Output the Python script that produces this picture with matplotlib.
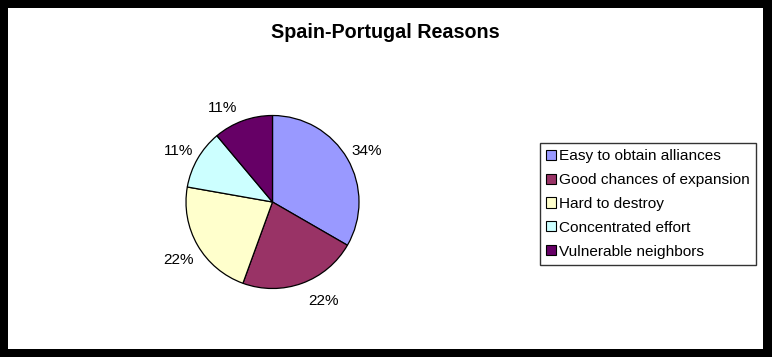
import matplotlib
matplotlib.use("Agg")
import numpy as np
import matplotlib.pyplot as plt
from matplotlib.patches import Rectangle

title = "Spain-Portugal Reasons"
categories = ["Easy to obtain alliances", "Good chances of expansion",
              "Hard to destroy", "Concentrated effort", "Vulnerable neighbors"]
values = [3, 2, 2, 1, 1]
pct_labels = ["34%", "22%", "22%", "11%", "11%"]
colors = ["#9999FF", "#993366", "#FFFFCC", "#CCFFFF", "#660066"]

plt.rcParams['font.family'] = ['Liberation Sans', 'DejaVu Sans']

W, H = 772, 357
fig = plt.figure(figsize=(W / 100, H / 100), dpi=100)
fig.patch.set_facecolor("black")
fig.patches.append(Rectangle((8 / W, 8 / H), (763 - 8) / W, (349 - 8) / H,
                             transform=fig.transFigure, facecolor="white",
                             edgecolor="none", zorder=-5))

cx, cy, r = 272.5, 202, 86.5
ax = fig.add_axes([(cx - r) / W, (H - cy - r) / H, 2 * r / W, 2 * r / H])
ax.set_zorder(2)
ax.patch.set_alpha(0)
wedges, texts = ax.pie(values, colors=colors, startangle=90, counterclock=False,
                       labels=pct_labels, labeldistance=1.26,
                       wedgeprops=dict(edgecolor="black", linewidth=0.9),
                       textprops=dict(fontsize=11))
ax.set_xlim(-1, 1)
ax.set_ylim(-1, 1)
ax.set_aspect("auto")
ax.axis("off")

# Excel-style label placement: small angular nudges for the labels near the vertical
nudge = [0, -8, 0, 0, -7]
for w, t, dn in zip(wedges, texts, nudge):
    mid = np.deg2rad((w.theta1 + w.theta2) / 2 + (-dn))
    t.set_position((1.26 * np.cos(mid), 1.26 * np.sin(mid) - 0.02))
    t.set_ha("center")
    t.set_va("center_baseline")

fig.text(385 / W, 1 - 32 / H, title, ha="center", va="center",
         fontsize=14.2, fontweight="bold")

leg = fig.legend(wedges, categories, loc="upper left",
                 bbox_to_anchor=(540 / W, 1 - 143 / H),
                 frameon=True, fancybox=False, shadow=False,
                 fontsize=11.1, handlelength=0.64, handleheight=0.64,
                 handletextpad=0.2, labelspacing=0.64, borderpad=0.4,
                 borderaxespad=0)
leg.get_frame().set_edgecolor("black")
leg.get_frame().set_linewidth(1)
for h in leg.legend_handles:
    h.set_edgecolor("black")
    h.set_linewidth(0.8)

fig.savefig("out.png", dpi=100, facecolor=fig.get_facecolor())
